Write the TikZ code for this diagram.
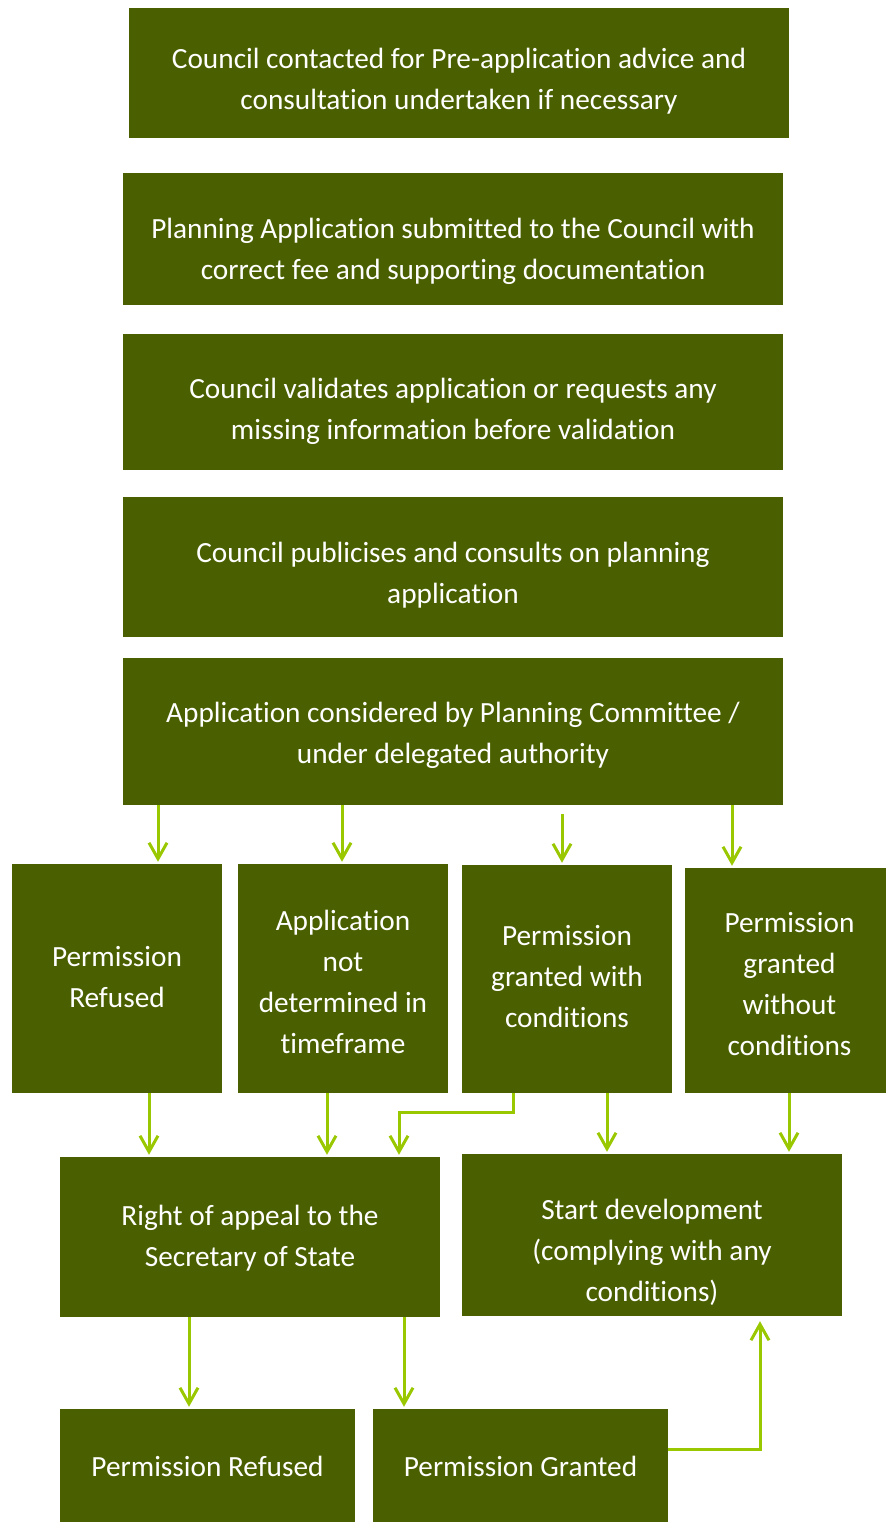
\documentclass[tikz,border=0pt]{standalone}
\usepackage{fontspec}
\setmainfont{Carlito}[Ligatures=CommonOff]
\usetikzlibrary{arrows.meta,calc}
\definecolor{boxgreen}{RGB}{74,96,0}
\definecolor{arrowgreen}{RGB}{154,200,0}
\begin{document}
\begin{tikzpicture}[x=1pt,y=-1pt,
  box/.style={fill=boxgreen,draw=none,inner sep=0pt},
  txt/.style={text=white,align=center,inner sep=0pt,
    font=\fontsize{29.3}{41}\selectfont},
  arr/.style={draw=arrowgreen,line width=3pt,
    -{Straight Barb[length=16pt,width=18pt,line width=3pt]},shorten >=2pt}]
\useasboundingbox (0,0) rectangle (886,1523);

% main sequence
\node[box,minimum width=660pt,minimum height=130pt] (n1) at (459,73) {};
\node[txt] (n1t) at ([yshift=-8pt]n1.center)
  {Council contacted for Pre-application advice and\\consultation undertaken if necessary};
\node[box,minimum width=660pt,minimum height=132pt] (n2) at (453,239) {};
\node[txt] (n2t) at ([yshift=-12pt]n2.center)
  {Planning Application submitted to the Council with\\correct fee and supporting documentation};
\node[box,minimum width=660pt,minimum height=136pt] (n3) at (453,402) {};
\node[txt] (n3t) at ([yshift=-9pt]n3.center)
  {Council validates application or requests any\\missing information before validation};
\node[box,minimum width=660pt,minimum height=140pt] (n4) at (453,567) {};
\node[txt] (n4t) at ([yshift=-8pt]n4.center)
  {Council publicises and consults on planning\\application};
\node[box,minimum width=660pt,minimum height=147pt] (n5) at (453,731.5) {};
\node[txt] (n5t) at ([yshift=-4pt]n5.center)
  {Application considered by Planning Committee /\\under delegated authority};

% outcomes
\node[box,minimum width=210pt,minimum height=229pt] (ra) at (117,978.5) {};
\node[txt] (rat) at ([yshift=1pt]ra.center) {Permission\\Refused};
\node[box,minimum width=210pt,minimum height=229pt] (rb) at (343,978.5) {};
\node[txt] (rbt) at ([yshift=-3pt]rb.center) {Application\\not\\determined in\\timeframe};
\node[box,minimum width=210pt,minimum height=228pt] (rc) at (567,979) {};
\node[txt] (rct) at ([yshift=2pt]rc.center) {Permission\\granted with\\conditions};
\node[box,minimum width=201pt,minimum height=225pt] (rd) at (785.5,980.5) {};
\node[txt] (rdt) at ([xshift=4pt,yshift=-4pt]rd.center) {Permission\\granted\\without\\conditions};

% appeal and development
\node[box,minimum width=380pt,minimum height=160pt] (ap) at (250,1237) {};
\node[txt] (apt) at ([yshift=-1pt]ap.center) {Right of appeal to the\\Secretary of State};
\node[box,minimum width=380pt,minimum height=162pt] (dev) at (652,1235) {};
\node[txt] (devt) at ([yshift=-17pt]dev.center) {Start development\\(complying with any\\conditions)};

% appeal results
\node[box,minimum width=295pt,minimum height=113pt] (pr) at (207.5,1465.5) {};
\node[txt] (prt) at ([yshift=-1pt]pr.center) {Permission Refused};
\node[box,minimum width=295pt,minimum height=113pt] (pg) at (520.5,1465.5) {};
\node[txt] (pgt) at ([yshift=-1pt]pg.center) {Permission Granted};

% connector columns
\coordinate (c1) at (158,0);
\coordinate (c2) at (342,0);
\coordinate (c3) at (562,0);
\coordinate (c4) at (732,0);
\coordinate (d1) at (149,0);
\coordinate (d2) at (327,0);
\coordinate (d3) at (513,1112);
\coordinate (d4) at (399,1112);
\coordinate (d5) at (607,0);
\coordinate (d6) at (789,0);
\coordinate (e1) at (189,0);
\coordinate (e2) at (404,0);
\coordinate (g1) at (760,1449);

\draw[arr] (c1 |- n5.south) -- (c1 |- ra.north);
\draw[arr] (c2 |- n5.south) -- (c2 |- rb.north);
\draw[arr,shorten <=9pt] (c3 |- n5.south) -- (c3 |- rc.north);
\draw[arr] (c4 |- n5.south) -- (c4 |- rd.north);

\draw[arr] (d1 |- ra.south) -- (d1 |- ap.north);
\draw[arr] (d2 |- rb.south) -- (d2 |- ap.north);
\draw[arr] (d3 |- rc.south) -- (d3) -- (d4) -- (d4 |- ap.north);
\draw[arr] (d5 |- rc.south) -- (d5 |- dev.north);
\draw[arr] (d6 |- rd.south) -- (d6 |- dev.north);

\draw[arr] (e1 |- ap.south) -- (e1 |- pr.north);
\draw[arr] (e2 |- ap.south) -- (e2 |- pg.north);
\draw[arr,shorten >=5pt] (pg.east |- g1) -- (g1) -- (g1 |- dev.south);
\end{tikzpicture}
\end{document}
